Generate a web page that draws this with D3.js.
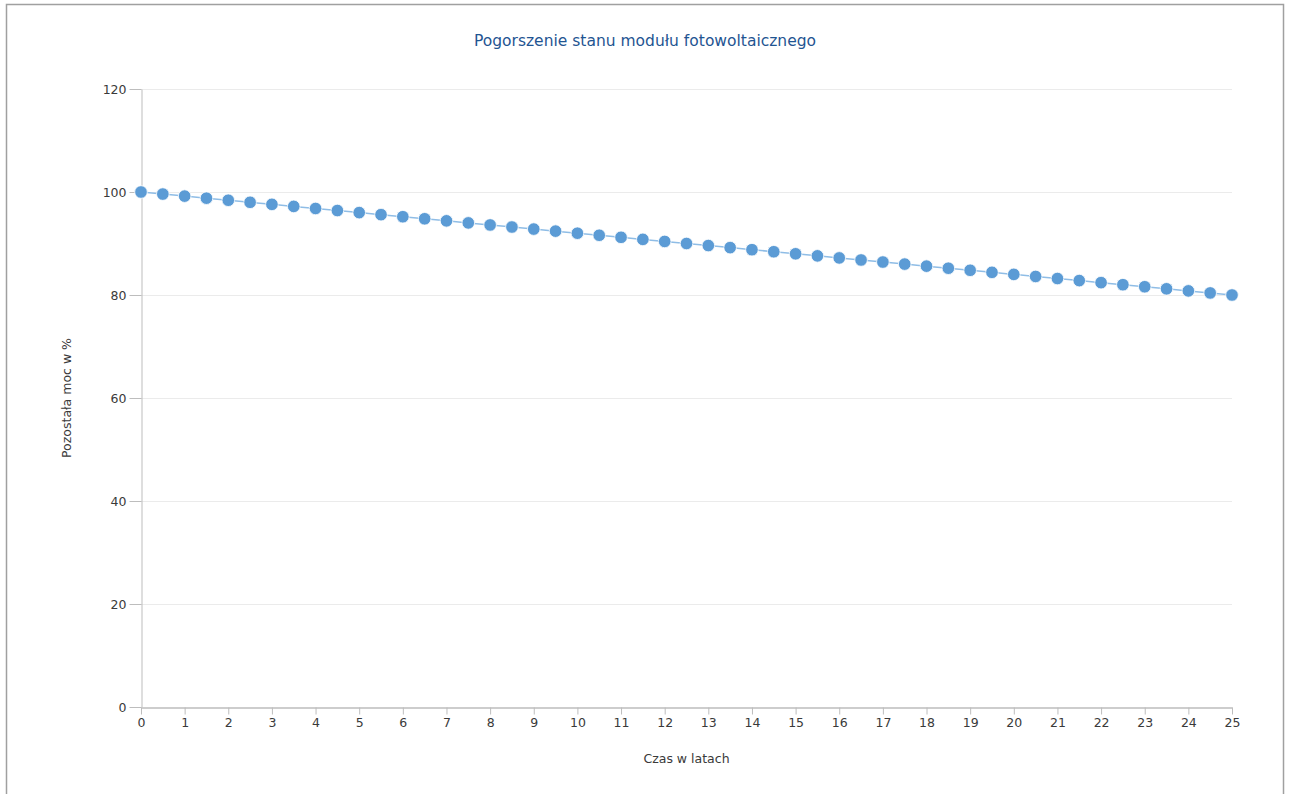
<!DOCTYPE html>
<html>
<head>
<meta charset="utf-8">
<script src="https://cdn.jsdelivr.net/npm/d3@7"></script>
<style>
  html, body { margin: 0; padding: 0; background: #fff; }
  #container { width: 1290px; height: 794px; }
  text { font-family: "DejaVu Sans", Verdana, sans-serif; }
</style>
</head>
<body>
<div id="container"><svg></svg></div>
<script>
'use strict';

// data
var years = [0, 0.5, 1, 1.5, 2, 2.5, 3, 3.5, 4, 4.5, 5, 5.5, 6, 6.5, 7, 7.5, 8, 8.5, 9, 9.5,
  10, 10.5, 11, 11.5, 12, 12.5, 13, 13.5, 14, 14.5, 15, 15.5, 16, 16.5, 17, 17.5, 18, 18.5, 19, 19.5,
  20, 20.5, 21, 21.5, 22, 22.5, 23, 23.5, 24, 24.5, 25];
var power = [100, 99.6, 99.2, 98.8, 98.4, 98, 97.6, 97.2, 96.8, 96.4, 96, 95.6, 95.2, 94.8, 94.4, 94, 93.6, 93.2, 92.8, 92.4,
  92, 91.6, 91.2, 90.8, 90.4, 90, 89.6, 89.2, 88.8, 88.4, 88, 87.6, 87.2, 86.8, 86.4, 86, 85.6, 85.2, 84.8, 84.4,
  84, 83.6, 83.2, 82.8, 82.4, 82, 81.6, 81.2, 80.8, 80.4, 80];
var xTicks = [0, 1, 2, 3, 4, 5, 6, 7, 8, 9, 10, 11, 12, 13, 14, 15, 16, 17, 18, 19, 20, 21, 22, 23, 24, 25];
var yTicks = [0, 20, 40, 60, 80, 100, 120];

var title = 'Pogorszenie stanu modułu fotowoltaicznego';
var xTitle = 'Czas w latach';
var yTitle = 'Pozostała moc w %';

var width = 1290, height = 794;
var svg = d3.select('svg').attr('width', width).attr('height', height);

// outer frame
svg.append('rect')
  .attr('x', 6.5).attr('y', 4.5)
  .attr('width', 1277).attr('height', 800)
  .attr('fill', 'none').attr('stroke', '#a0a0a0').attr('stroke-width', 1.5);

var margin = { left: 141, right: 1232, top: 89, bottom: 707 };

var x = d3.scaleLinear().domain([0, 25]).range([margin.left, margin.right]);
var y = d3.scaleLinear().domain([0, 120]).range([margin.bottom, margin.top]);

// gridlines
svg.append('g').selectAll('line')
  .data(yTicks.filter(function (d) { return d > 0; }))
  .enter().append('line')
  .attr('x1', margin.left).attr('x2', margin.right)
  .attr('y1', function (d) { return y(d) + 0.5; })
  .attr('y2', function (d) { return y(d) + 0.5; })
  .attr('stroke', '#ebebeb').attr('stroke-width', 1);

// axes
var yAxis = svg.append('g')
  .attr('transform', 'translate(' + (margin.left + 0.5) + ',0)')
  .call(d3.axisLeft(y).tickValues(yTicks).tickSize(12).tickPadding(3).tickSizeOuter(0));
var xAxis = svg.append('g')
  .attr('transform', 'translate(0,' + (margin.bottom + 0.5) + ')')
  .call(d3.axisBottom(x).tickValues(xTicks).tickSize(7).tickPadding(4).tickSizeOuter(0));

[yAxis, xAxis].forEach(function (a) {
  a.select('.domain').attr('stroke', '#bdbdbd');
  a.selectAll('.tick line').attr('stroke', '#bdbdbd');
  a.selectAll('.tick text')
    .attr('fill', '#3a3a3a')
    .style('font-size', '12.5px')
    .style('font-family', '"DejaVu Sans", Verdana, sans-serif');
});
xAxis.select('.domain').attr('stroke-width', 1.5);

// series
var pts = years.map(function (d, i) { return [d, power[i]]; });

svg.append('path')
  .datum(pts)
  .attr('fill', 'none')
  .attr('stroke', '#8fbde6')
  .attr('stroke-width', 1.5)
  .attr('d', d3.line().x(function (d) { return x(d[0]); }).y(function (d) { return y(d[1]); }));

svg.append('g').selectAll('circle')
  .data(pts)
  .enter().append('circle')
  .attr('cx', function (d) { return x(d[0]); })
  .attr('cy', function (d) { return y(d[1]); })
  .attr('r', 6.3)
  .attr('fill', '#5b9bd5')
  .attr('stroke', '#ffffff')
  .attr('stroke-width', 0.8);

// titles
svg.append('text')
  .attr('x', width / 2).attr('y', 46)
  .attr('text-anchor', 'middle')
  .attr('fill', '#1f5592')
  .style('font-size', '15.5px')
  .text(title);

svg.append('text')
  .attr('x', (margin.left + margin.right) / 2).attr('y', 763)
  .attr('text-anchor', 'middle')
  .attr('fill', '#3a3a3a')
  .style('font-size', '12.5px')
  .text(xTitle);

svg.append('text')
  .attr('transform', 'translate(71,' + ((margin.top + margin.bottom) / 2) + ') rotate(-90)')
  .attr('text-anchor', 'middle')
  .attr('fill', '#3a3a3a')
  .style('font-size', '12.5px')
  .text(yTitle);
</script>
</body>
</html>
